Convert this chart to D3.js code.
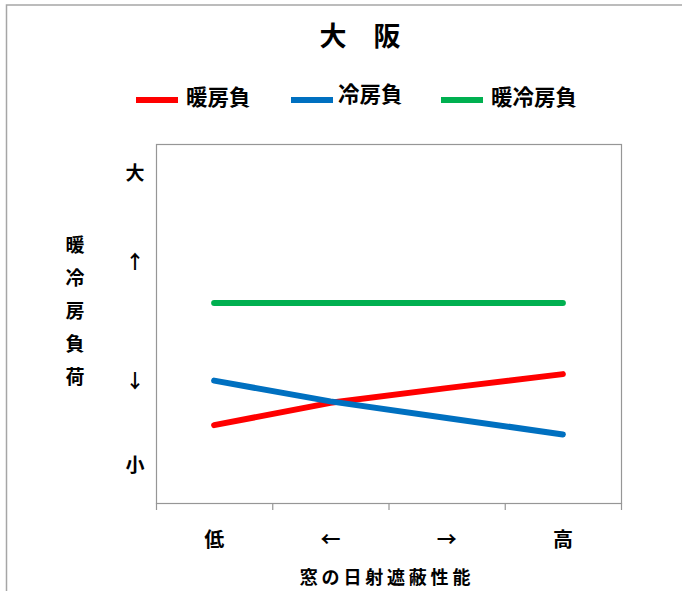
<!DOCTYPE html>
<html lang="ja">
<head>
	<meta charset="UTF-8">
	<title>大阪 暖冷房負荷</title>
	<script type="text/javascript" src="https://cdn.jsdelivr.net/npm/d3@7/dist/d3.min.js"></script>
	<style>
		body {
			margin: 0;
			background: #fff;
		}

		svg text {
			font-family: "Noto Sans CJK JP", "Noto Sans", sans-serif;
			font-weight: bold;
			fill: #000;
		}
	</style>
</head>
<body>
<div id="chart"></div>

<script type="text/javascript">
	var categories = ['低', '←', '→', '高'];
	var heating = [21.7, 27.9, 32.0, 35.9];
	var cooling = [34.1, 28.3, 23.7, 19.1];
	var total = [55.7, 55.7, 55.7, 55.7];
	var seriesNames = ['暖房負', '冷房負', '暖冷房負'];
	var seriesColors = ['#ff0000', '#0070c0', '#00b050'];
	var yLabels = ['大', '↑', '↓', '小'];
	var yLabelValues = [91.9, 67.1, 34.0, 10.6];
	var yTitle = ['暖', '冷', '房', '負', '荷'];

	var W = 682, H = 591;
	var margin = {top: 144, left: 156, bottom: 88, right: 61};

	var svg = d3.select('#chart')
		.append('svg')
		.attr('width', W)
		.attr('height', H);

	// outer frame (runs off the picture at right and bottom)
	svg.append('rect')
		.attr('x', 6.5)
		.attr('y', 5)
		.attr('width', W + 10)
		.attr('height', H + 10)
		.attr('fill', 'none')
		.attr('stroke', '#a6a6a6')
		.attr('stroke-width', 1.5);

	var x = d3.scaleBand()
		.domain(categories)
		.range([margin.left, W - margin.right])
		.padding(0);

	var y = d3.scaleLinear()
		.domain([0, 100])
		.range([H - margin.bottom, margin.top]);

	function cx(d) {
		return x(d) + x.bandwidth() / 2;
	}

	// plot area border
	svg.append('rect')
		.attr('x', x.range()[0] + 0.5)
		.attr('y', y(100) + 0.5)
		.attr('width', x.range()[1] - x.range()[0])
		.attr('height', y(0) - y(100))
		.attr('fill', 'none')
		.attr('stroke', '#969696')
		.attr('stroke-width', 1.2);

	// category ticks between bands
	var tickPos = categories.map(function (d) {
		return x(d);
	});
	tickPos.push(x.range()[1]);

	svg.selectAll('.tick')
		.data(tickPos)
		.enter().append('line')
		.attr('class', 'tick')
		.attr('x1', function (d) { return d + 0.5; })
		.attr('x2', function (d) { return d + 0.5; })
		.attr('y1', y(0))
		.attr('y2', y(0) + 7)
		.attr('stroke', '#969696')
		.attr('stroke-width', 1.2);

	svg.selectAll('.xlab')
		.data(categories)
		.enter().append('text')
		.attr('class', 'xlab')
		.attr('x', function (d) { return cx(d); })
		.attr('y', 540)
		.attr('dy', '0.35em')
		.attr('text-anchor', 'middle')
		.attr('font-size', 20)
		.text(function (d) { return d; });

	svg.append('text')
		.attr('x', 387)
		.attr('y', 578)
		.attr('dy', '0.35em')
		.attr('text-anchor', 'middle')
		.attr('font-size', 18)
		.attr('letter-spacing', '3.8px')
		.text('窓の日射遮蔽性能');

	svg.selectAll('.ylab')
		.data(yLabels)
		.enter().append('text')
		.attr('class', 'ylab')
		.attr('x', 135)
		.attr('y', function (d, i) { return y(yLabelValues[i]); })
		.attr('dy', '0.35em')
		.attr('text-anchor', 'middle')
		.attr('font-size', 19)
		.text(function (d) { return d; });

	svg.selectAll('.ytitle')
		.data(yTitle)
		.enter().append('text')
		.attr('class', 'ytitle')
		.attr('x', 75)
		.attr('y', function (d, i) { return 245 + i * 33; })
		.attr('dy', '0.35em')
		.attr('text-anchor', 'middle')
		.attr('font-size', 19)
		.text(function (d) { return d; });

	// title
	svg.append('text')
		.attr('x', 360)
		.attr('y', 37)
		.attr('dy', '0.35em')
		.attr('text-anchor', 'middle')
		.attr('font-size', 27)
		.text('大　阪');

	// series
	var line = d3.line()
		.x(function (d, i) { return cx(categories[i]); })
		.y(function (d) { return y(d); });

	[heating, cooling, total].forEach(function (s, i) {
		svg.append('path')
			.datum(s)
			.attr('d', line)
			.attr('fill', 'none')
			.attr('stroke', seriesColors[i])
			.attr('stroke-width', 6)
			.attr('stroke-linecap', 'round')
			.attr('stroke-linejoin', 'round');
	});

	// legend
	var legendX = [136, 291, 441];
	var legendTextY = [97, 94, 97];
	var legend = svg.selectAll('.legend')
		.data(seriesNames)
		.enter().append('g')
		.attr('class', 'legend');

	legend.append('line')
		.attr('x1', function (d, i) { return legendX[i]; })
		.attr('x2', function (d, i) { return legendX[i] + 42; })
		.attr('y1', 100)
		.attr('y2', 100)
		.attr('stroke', function (d, i) { return seriesColors[i]; })
		.attr('stroke-width', 6);

	legend.append('text')
		.attr('x', function (d, i) { return legendX[i] + (i === 1 ? 47 : 50); })
		.attr('y', function (d, i) { return legendTextY[i]; })
		.attr('dy', '0.35em')
		.attr('font-size', 21.5)
		.text(function (d) { return d; });
</script>
</body>
</html>
